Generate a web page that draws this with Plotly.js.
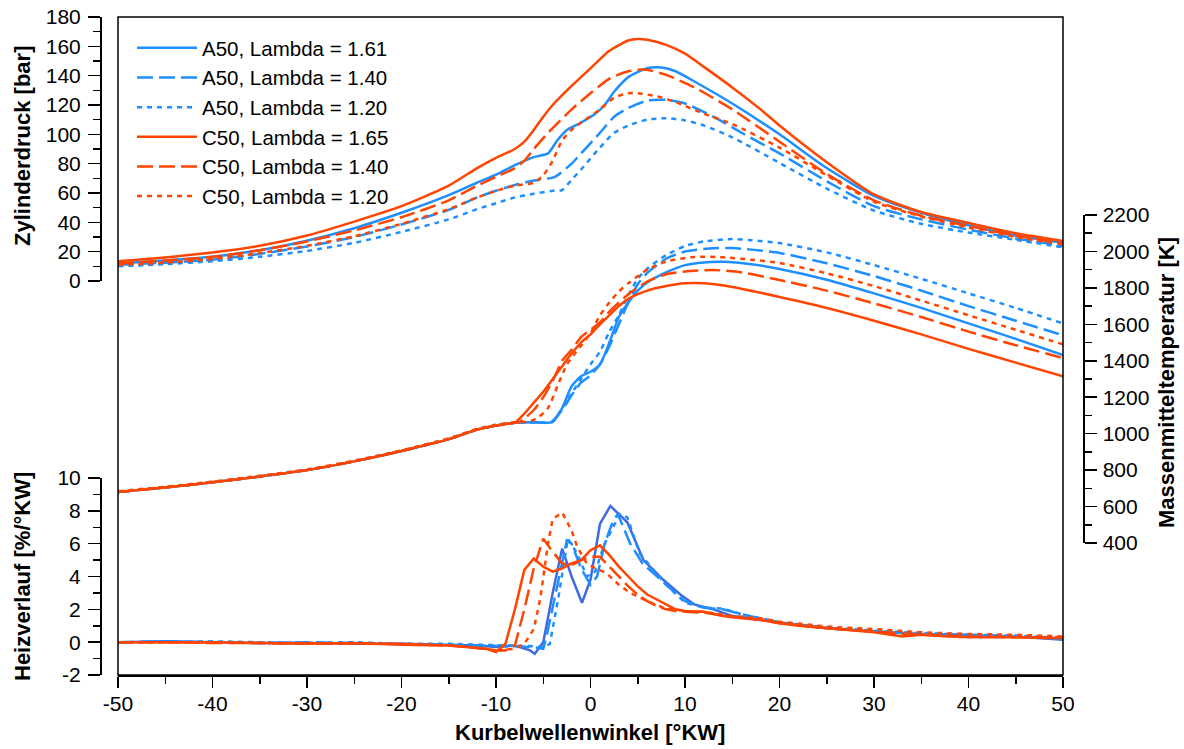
<!DOCTYPE html>
<html><head><meta charset="utf-8">
<script src="https://cdn.plot.ly/plotly-3.0.1.min.js"></script>
<style>html,body{margin:0;padding:0;background:#fff}</style>
</head><body><div id="chart" style="width:1184px;height:749px"></div>
<script>
// ---------------- DATA ----------------
const seriesNames = ["A50, Lambda = 1.61","A50, Lambda = 1.40","A50, Lambda = 1.20","C50, Lambda = 1.65","C50, Lambda = 1.40","C50, Lambda = 1.20"];

// tick labels (hyphen minus as in the original)
const xTickVals = [-50,-40,-30,-20,-10,0,10,20,30,40,50];
const xTickText = ["-50","-40","-30","-20","-10","0","10","20","30","40","50"];
const hTickVals = [-2,0,2,4,6,8,10];
const hTickText = ["-2","0","2","4","6","8","10"];

// Zylinderdruck [bar]
const pA161_x = [-50,-45,-40,-35,-30,-25,-20,-15,-12,-10,-8,-6,-4.5,-3.5,-2.5,-1,0.5,1.5,2.5,4,6,7.5,9,11,15,20,25,30,35,40,45,50];
const pA161_y = [12,14,16.5,21,27.5,36,46.5,58.5,67,72.5,79,84.5,87,96,103,108,114,120,129,139,145,145.5,143,136,121,100,77,58,46.5,38,31,26];
const pA140_x = [-50,-45,-40,-35,-30,-25,-20,-15,-12,-10,-8,-6,-4,-3.5,-2,-1,1,2.5,4,6,8,10,13,16,20,25,30,35,40,45,50];
const pA140_y = [11,12.5,14.5,18.5,23.5,30,38.5,48.5,57,61.5,65.5,68.5,70.5,72,80,87,101,112,118,123,123.5,121,112,101,87,68,51,42,35,29,24];
const pA120_x = [-50,-45,-40,-35,-30,-25,-20,-15,-12,-10,-8,-6,-4,-3,-2,-1,1,2.5,4,6,8,10,12,15,20,25,30,35,40,45,50];
const pA120_y = [10,11.5,13.5,16.5,20.5,26,33.5,42,49,53,57,59.5,61.5,62,69,76,91,101,106,110,111,109.5,106,98,80.5,63,48,39,33,28,23];
const pC165_x = [-50,-45,-40,-35,-30,-25,-20,-15,-12,-10,-8,-7,-6,-5,-4,-2,0,2,4,5,6,8,10,12,15,18,20,25,30,35,40,45,50];
const pC165_y = [13.5,16,19.5,24,31,40.5,51,65,77,84,90,95,103,112,120,133,145,157,164,165,164.5,161,155,146,132,117,106,81,59,47,39.5,32.5,27.3];
const pC140_x = [-50,-45,-40,-35,-30,-25,-20,-15,-12,-10,-8,-7,-6,-4.5,-2,0,2,4,5,6,8,11,15,20,25,30,35,40,45,50];
const pC140_y = [12,14,16.5,21,27,34.5,43.5,55,65,71,77,82,90,101,117,128,138,143,144,144,140.5,132,117,95,73,55,44.5,37.5,31,25.5];
const pC120_x = [-50,-45,-40,-35,-30,-25,-20,-15,-12,-10,-8,-6,-5,-4,-3,-2,-1,1,2.5,4,5,7,9,12,15,20,25,30,35,40,45,50];
const pC120_y = [11,12.5,15,19,24,30.5,39,49,57,61.5,65,67,72,82,96,103,108,117,125,128,128,126,122,114,107,91,72,54,44,36.5,30,25];

// Massenmitteltemperatur [K]
const tA161_x = [-50,-45,-40,-35,-30,-25,-20,-15,-12,-10,-8,-6,-4.5,-4,-3,-2,-1,0,1,2,3,4,5,6,8,10,12,14,17,20,25,30,35,40,45,50];
const tA161_y = [680,705,733,765,800,848,905,970,1022,1045,1060,1062,1060,1065,1140,1260,1315,1340,1380,1500,1640,1720,1785,1830,1885,1925,1940,1943,1930,1904,1845,1770,1690,1605,1520,1432];
const tA140_x = [-50,-45,-40,-35,-30,-25,-20,-15,-12,-10,-8,-6,-4.2,-3,-2,-1,0,1,2,3,4,5,6,8,10,13,15,17,20,25,30,35,40,45,50];
const tA140_y = [680,705,733,765,800,848,905,970,1022,1045,1060,1062,1062,1130,1210,1280,1320,1380,1480,1600,1720,1820,1882,1960,2000,2018,2019,2010,1992,1935,1865,1785,1700,1620,1540];
const tA120_x = [-50,-45,-40,-35,-30,-25,-20,-15,-12,-10,-8,-6,-4,-3,-2,-1,0,1,2,3,4,5,6,8,10,12,15,17,20,25,30,35,40,45,50];
const tA120_y = [680,705,733,765,800,848,905,970,1022,1045,1060,1062,1065,1140,1220,1300,1380,1450,1560,1650,1760,1850,1905,1980,2030,2055,2068,2062,2046,1995,1925,1850,1770,1690,1605];
const tC165_x = [-50,-45,-40,-35,-30,-25,-20,-15,-12,-10,-8,-7,-6,-5,-4,-3,-2,-1,0,1,2,3,4,6,8,10,12,15,20,25,30,35,40,45,50];
const tC165_y = [680,705,733,765,800,848,905,970,1022,1045,1062,1110,1170,1230,1300,1370,1440,1500,1545,1600,1650,1700,1740,1785,1810,1825,1825,1805,1750,1690,1620,1545,1465,1390,1315];
const tC140_x = [-50,-45,-40,-35,-30,-25,-20,-15,-12,-10,-8,-7.5,-6,-5,-4,-3,-2,-1,0,1,2,4,6,8,10,13,16,20,25,30,35,40,45,50];
const tC140_y = [680,705,733,765,800,848,905,970,1022,1045,1060,1064,1130,1200,1290,1400,1460,1530,1570,1610,1670,1765,1835,1875,1890,1898,1885,1843,1785,1715,1640,1560,1485,1415];
const tC120_x = [-50,-45,-40,-35,-30,-25,-20,-15,-12,-10,-8,-6.5,-5.5,-4.5,-3.5,-2.5,-1.5,0,1,2,3,4,6,8,11,14,17,20,25,30,35,40,45,50];
const tC120_y = [684,709,737,769,804,852,909,974,1026,1049,1063,1066,1090,1140,1260,1380,1450,1550,1650,1720,1780,1825,1900,1945,1970,1968,1955,1937,1880,1810,1730,1650,1570,1490];

// Heizverlauf [%/°KW]
const hA161_x = [-50,-45,-40,-35,-30,-25,-20,-15,-12,-10,-8,-6.4,-5.9,-5,-4,-3,-2,-0.9,0,1,2.1,3,3.9,5.6,7.7,9.5,11,13,15,18,20,25,30,35,40,45,48,50];
const hA161_y = [0,0.05,0,-0.05,-0.05,-0.1,-0.1,-0.15,-0.2,-0.3,-0.2,-0.5,-0.7,0,3.0,5.7,4.0,2.4,3.8,7.2,8.3,7.8,7.3,5.0,3.8,2.9,2.3,2.0,1.6,1.4,1.2,0.85,0.65,0.5,0.4,0.35,0.25,0.15];
const hA140_x = [-50,-45,-40,-35,-30,-25,-20,-15,-12,-10,-8,-6,-5,-4.6,-3.5,-2.5,-2,-1,0,0.7,1.5,2.4,2.9,4.2,5.5,7,8,10,12,14,16,18,20,25,30,35,40,45,50];
const hA140_y = [0,0.05,0,-0.05,0,-0.05,-0.1,-0.15,-0.2,-0.2,-0.25,-0.3,-0.4,0.5,3.5,6.2,6.0,4.5,3.5,4.0,6.0,7.4,7.8,6.0,4.8,4.0,3.5,2.5,2.1,2.0,1.7,1.45,1.2,0.85,0.65,0.5,0.45,0.35,0.2];
const hA120_x = [-50,-45,-40,-35,-30,-25,-20,-15,-12,-10,-8,-6,-5,-4.3,-3.4,-2.4,-1.4,-0.4,0.5,1.5,3.1,3.9,5.2,6.5,8,10,12,14,16,18,20,25,30,35,40,45,50];
const hA120_y = [0,0,0.05,0,-0.05,0,-0.1,-0.1,-0.15,-0.2,-0.2,-0.25,-0.3,-0.1,2.7,6.3,5.4,4.0,4.3,6.0,7.8,7.6,5.4,4.5,3.5,2.4,2.1,2.05,1.7,1.45,1.2,0.9,0.7,0.55,0.45,0.4,0.25];
const hC165_x = [-50,-45,-40,-35,-30,-25,-20,-15,-12,-11,-10,-9,-8,-7,-6,-5,-4,-3,-2,-1,0,1,2,3,4,5,6,7,8,9,10,12,14,16,18,20,22,25,28,30,33,35,38,40,43,45,48,50];
const hC165_y = [0,0,0,-0.05,-0.1,-0.05,-0.15,-0.2,-0.35,-0.4,-0.6,-0.1,2.0,4.4,5.1,4.6,4.3,4.5,4.8,5.0,5.6,5.9,5.3,4.6,4.0,3.4,2.9,2.6,2.3,2.0,1.9,1.85,1.6,1.45,1.35,1.15,1.0,0.85,0.7,0.6,0.35,0.45,0.35,0.3,0.3,0.3,0.25,0.25];
const hC140_x = [-50,-45,-40,-35,-30,-25,-20,-15,-12,-10,-9,-8,-7,-6,-5,-4,-3,-2,-1,0,1,2,3,4,5,6,7,8,9,10,12,15,18,20,25,30,35,40,45,50];
const hC140_y = [0,0,-0.05,-0.05,-0.1,-0.1,-0.1,-0.2,-0.35,-0.5,-0.5,-0.2,2.0,4.5,6.3,5.5,4.8,4.7,5.0,5.2,5.2,4.6,4.0,3.4,2.9,2.5,2.2,2.0,1.9,1.85,1.8,1.55,1.35,1.15,0.85,0.65,0.45,0.35,0.3,0.3];
const hC120_x = [-50,-45,-40,-35,-30,-25,-20,-15,-12,-10,-8,-7,-6,-5.3,-4.5,-4,-3,-2,-1.4,-0.4,0.5,1.7,3,4.2,6,7.7,10,12,15,18,20,25,30,35,40,45,50];
const hC120_y = [0,0,0,-0.05,-0.05,-0.1,-0.1,-0.2,-0.35,-0.5,-0.4,-0.1,0.8,2.7,6.0,7.5,7.9,6.8,5.8,4.8,4.5,4.2,3.5,3.0,2.5,2.1,1.9,1.85,1.6,1.45,1.25,0.95,0.8,0.6,0.5,0.45,0.35];

// ---------------- STYLE ----------------
const BLUE = "#1E8FFF", ORANGE = "#FF4500", ROYAL = "#4169E1";
const DASHES = ["solid","16px,6px","5px,5px"];
const W = 1184, H = 749;
const fx = p => p / W, fy = p => 1 - p / H;
const LW = 2.5;
const FONT = "Liberation Sans, Arial, Helvetica, sans-serif";

const pSets = [[pA161_x,pA161_y],[pA140_x,pA140_y],[pA120_x,pA120_y],[pC165_x,pC165_y],[pC140_x,pC140_y],[pC120_x,pC120_y]];
const tSets = [[tA161_x,tA161_y],[tA140_x,tA140_y],[tA120_x,tA120_y],[tC165_x,tC165_y],[tC140_x,tC140_y],[tC120_x,tC120_y]];
const hSets = [[hA161_x,hA161_y],[hA140_x,hA140_y],[hA120_x,hA120_y],[hC165_x,hC165_y],[hC140_x,hC140_y],[hC120_x,hC120_y]];

const traces = [];
pSets.forEach((s,i) => {
  traces.push({x:s[0], y:s[1], type:"scatter", mode:"lines", name:seriesNames[i],
    xaxis:"x", yaxis:"y",
    line:{color: i<3?BLUE:ORANGE, width:LW, dash:DASHES[i%3], shape:"spline", smoothing:0.6}});
});
tSets.forEach((s,i) => {
  traces.push({x:s[0], y:s[1], type:"scatter", mode:"lines", name:seriesNames[i],
    showlegend:false, xaxis:"x", yaxis:"y2",
    line:{color: i<3?BLUE:ORANGE, width:LW, dash:DASHES[i%3], shape:"spline", smoothing:0.6}});
});
hSets.forEach((s,i) => {
  traces.push({x:s[0], y:s[1], type:"scatter", mode:"lines", name:seriesNames[i],
    showlegend:false, xaxis:"x", yaxis:"y3",
    line:{color: i===0?ROYAL:(i<3?BLUE:ORANGE), width:LW, dash:DASHES[i%3]}});
});

const tickFont = {family:FONT, size:21, color:"#000"};
const minorT = {ticks:"outside", ticklen:7, tickwidth:1.5, tickcolor:"#000"};
const axBase = {showgrid:false, zeroline:false, showline:true, linecolor:"#000", linewidth:1.5,
  ticks:"outside", ticklen:12, tickwidth:1.5, tickcolor:"#000", tickfont:tickFont, fixedrange:true};

const layout = {
  width:W, height:H, margin:{l:0,r:0,t:0,b:0},
  paper_bgcolor:"#fff", plot_bgcolor:"rgba(0,0,0,0)",
  font:{family:FONT, color:"#000"},
  showlegend:true,
  legend:{x:fx(132), y:fy(28), xanchor:"left", yanchor:"top", bgcolor:"rgba(0,0,0,0)",
    font:{family:FONT, size:20.5, color:"#000"}, traceorder:"normal", itemwidth:60},
  xaxis: Object.assign({}, axBase, {domain:[fx(118), fx(1063)], range:[-50,50],
    tickmode:"array", tickvals:xTickVals, ticktext:xTickText,
    anchor:"free", position:fy(675), ticklen:11, ticklabelstandoff:-2,
    minor:Object.assign({tickmode:"linear", tick0:0, dtick:5}, minorT)}),
  yaxis: Object.assign({}, axBase, {domain:[fy(281), fy(17)], range:[0,180], dtick:20, tick0:0,
    anchor:"free", position:fx(100), side:"left", ticklabelstandoff:3,
    minor:Object.assign({tickmode:"linear", tick0:0, dtick:10}, minorT)}),
  yaxis2: Object.assign({}, axBase, {domain:[fy(543), fy(215)], range:[400,2200], dtick:200, tick0:0,
    anchor:"free", position:fx(1083), side:"right", ticklabelstandoff:2,
    minor:Object.assign({tickmode:"linear", tick0:0, dtick:100}, minorT)}),
  yaxis3: Object.assign({}, axBase, {domain:[fy(675), fy(478)], range:[-2,10],
    tickmode:"array", tickvals:hTickVals, ticktext:hTickText,
    anchor:"free", position:fx(100), side:"left", ticklabelstandoff:3,
    minor:Object.assign({tickmode:"linear", tick0:0, dtick:1}, minorT)}),
  shapes:[{type:"rect", xref:"paper", yref:"paper", x0:fx(118), x1:fx(1063), y0:fy(675), y1:fy(17),
    line:{color:"#000", width:1.5}, fillcolor:"rgba(0,0,0,0)", layer:"above"}],
  annotations:[
    {text:"<b>Zylinderdruck [bar]</b>", xref:"paper", yref:"paper", x:fx(22), y:fy(146), textangle:-90,
      showarrow:false, font:{family:FONT, size:22}, xanchor:"center", yanchor:"middle"},
    {text:"<b>Heizverlauf [%/°KW]</b>", xref:"paper", yref:"paper", x:fx(22), y:fy(577), textangle:-90,
      showarrow:false, font:{family:FONT, size:22}, xanchor:"center", yanchor:"middle"},
    {text:"<b>Massenmitteltemperatur [K]</b>", xref:"paper", yref:"paper", x:fx(1166), y:fy(383), textangle:-90,
      showarrow:false, font:{family:FONT, size:22}, xanchor:"center", yanchor:"middle"},
    {text:"<b>Kurbelwellenwinkel [°KW]</b>", xref:"paper", yref:"paper", x:fx(590), y:fy(732),
      showarrow:false, font:{family:FONT, size:22}, xanchor:"center", yanchor:"middle"}
  ]
};

Plotly.newPlot("chart", traces, layout, {displayModeBar:false, staticPlot:true});
</script></body></html>
